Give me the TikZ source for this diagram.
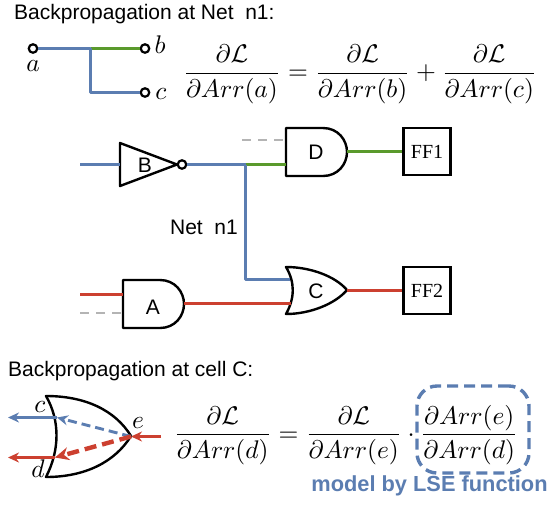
\documentclass[tikz,border=0pt]{standalone}
\usepackage{amsmath}
\usepackage{fontspec}
\setmainfont{Liberation Sans}
\newfontfamily\ffserif{Liberation Serif}
\usetikzlibrary{arrows.meta, calc, positioning}
\definecolor{netb}{HTML}{5B7DB1}
\definecolor{netg}{HTML}{5A9A2C}
\definecolor{netr}{HTML}{CC4030}
\definecolor{netk}{HTML}{B4B4B4}

\begin{document}
\begin{tikzpicture}[x=1pt, y=-1pt,
            bw/.style={draw = netb, line width=2.9pt},
            gw/.style={draw = netg, line width=2.9pt},
            rw/.style={draw = netr, line width=2.9pt},
            kw/.style={draw = netk, line width=2pt, dash pattern=on 9pt off 7pt},
            gate/.style={draw = black, line width=2.4pt, line join=round},
            pin/.style={circle, draw = black, line width=2.2pt, fill = white, minimum size=8.5pt, inner sep=0pt},
            ff/.style={draw = black, line width=2.4pt, minimum width=47pt, minimum height=47pt, inner sep=0pt, font=\ffserif\fontsize{20}{22}\selectfont},
            head/.style={anchor = west, inner sep=0pt, font=\fontsize{21}{24}\selectfont},
            eqn/.style={scale=2.55, inner sep=0pt},
            lab/.style={inner sep=0pt, font=\fontsize{21}{24}\selectfont}
        ]
        \useasboundingbox (0,0) rectangle (548,504);

        % net n1 alone
        \node[head] (t1) at (14,14) {Backpropagation at Net\ \ n1:};
        \node[pin] (a) at (33,48.5) {};
        \node[pin] (b) at (145,48.5) {};
        \node[pin] (c) at (145,92.5) {};
        \coordinate (j0) at (90.5,48.5);
        \draw[gw] (j0) -- (b);
        \draw[bw, line join=round] (a) -- (j0) |- (c);
        \node[eqn] (la) at (33,66) {$a$};
        \node[eqn] (lb) at (160,45) {$b$};
        \node[eqn] (lc) at (161,94) {$c$};
        \node[eqn] (eq1) at (360,74) {$\dfrac{\partial\mathcal{L}}{\partial Arr(a)}=\dfrac{\partial\mathcal{L}}{\partial Arr(b)}+\dfrac{\partial\mathcal{L}}{\partial Arr(c)}$};

        % circuit
        \node[ff] (ff1) at (427,151.5) {FF1};
        \node[ff] (ff2) at (427,290.5) {FF2};
        \draw[gate] (120,143) -- (177,164.5) -- (120,186) -- cycle;
        \node[pin] (inv) at (182,164.5) {};
        \draw[gate] (286,128) -- (323,128) .. controls (338,128) and (347,140) .. (347,152) .. controls (347,164) and (338,176) .. (323,176) -- (286,176) -- cycle;
        \draw[gate] (123,280) -- (160,280) .. controls (175,280) and (184,292) .. (184,304) .. controls (184,316) and (175,328) .. (160,328) -- (123,328) -- cycle;
        \draw[gate] (286,267) .. controls (310,267) and (335,276) .. (347,290) .. controls (335,304) and (310,314) .. (286,314) .. controls (295,298) and (295,282) .. (286,267) -- cycle;
        \node[lab] (gb) at (145,165) {B};
        \node[lab] (gd) at (316,152) {D};
        \node[lab] (ga) at (153,307) {A};
        \node[lab] (gc) at (316,291) {C};
        \node[lab] (n1) at (204,227) {Net\ \ n1};
        \coordinate (bin) at (80,164.5);
        \coordinate (bpin) at (120,164.5);
        \coordinate (j1) at (245.5,164.5);
        \coordinate (din) at (286,164.5);
        \coordinate (dk0) at (242,140);
        \coordinate (dk1) at (286,140);
        \coordinate (dout) at (347,151.5);
        \coordinate (cin) at (290,279.5);
        \coordinate (cin2) at (291,303.5);
        \coordinate (cout) at (347,290.5);
        \coordinate (aout) at (184,303.5);
        \coordinate (ar0) at (80,294.5);
        \coordinate (ar1) at (123,294.5);
        \coordinate (ak0) at (80,313);
        \coordinate (ak1) at (123,313);
        \draw[bw] (bin) -- (bpin);
        \draw[bw] (inv) -- (j1);
        \draw[gw] (j1) -- (din);
        \draw[bw, line join=round] (j1) |- (cin);
        \draw[kw] (dk0) -- (dk1);
        \draw[gw] (dout) -- (ff1);
        \draw[rw] (cout) -- (ff2);
        \draw[rw] (aout) -- (cin2);
        \draw[rw] (ar0) -- (ar1);
        \draw[kw] (ak0) -- (ak1);

        % cell C
        \node[head] (t2) at (8,371) {Backpropagation at cell C:};
        \draw[gate] (46,396) .. controls (85,396) and (115,410) .. (131,436) .. controls (115,462) and (85,477) .. (46,477) .. controls (60,450) and (60,420) .. (46,396) -- cycle;
        \coordinate (e) at (131,436.5);
        \coordinate (ein) at (161,436.5);
        \coordinate (cm) at (57,417.5);
        \coordinate (cl) at (8,417.5);
        \coordinate (dm) at (55,457.5);
        \coordinate (dl) at (8,457.5);
        \draw[bw, -{Stealth[length=11pt, width=10pt]}] (cm) -- (cl);
        \draw[rw, -{Stealth[length=11pt, width=10pt]}] (dm) -- (dl);
        \draw[bw, dash pattern=on 9pt off 5pt, -{Stealth[length=11pt, width=10pt]}] (e) -- (cm);
        \draw[netr, line width=4.4pt, dash pattern=on 12pt off 6pt, -{Stealth[length=14pt, width=13pt]}] (e) -- (dm);
        \draw[rw, -{Stealth[length=11pt, width=10pt]}] (ein) -- (e);
        \node[eqn] (lc2) at (40,407) {$c$};
        \node[eqn] (ld2) at (38,469) {$d$};
        \node[eqn] (le2) at (138,423) {$e$};
        \node[eqn] (eq2) at (346,435) {$\dfrac{\partial\mathcal{L}}{\partial Arr(d)}=\dfrac{\partial\mathcal{L}}{\partial Arr(e)}\cdot\dfrac{\partial Arr(e)}{\partial Arr(d)}$};
        \node[draw = netb, line width=3.4pt, dash pattern=on 11pt off 6pt, rounded corners=20pt, minimum width=112pt, minimum height=87pt, inner sep=0pt] (lse) at (473,429.5) {};
        \node[inner sep=0pt, text = netb, font=\bfseries\fontsize{21.8}{24}\selectfont] (ls) at (429.5,486) {model by LSE function};
    \end{tikzpicture}
\end{document}
